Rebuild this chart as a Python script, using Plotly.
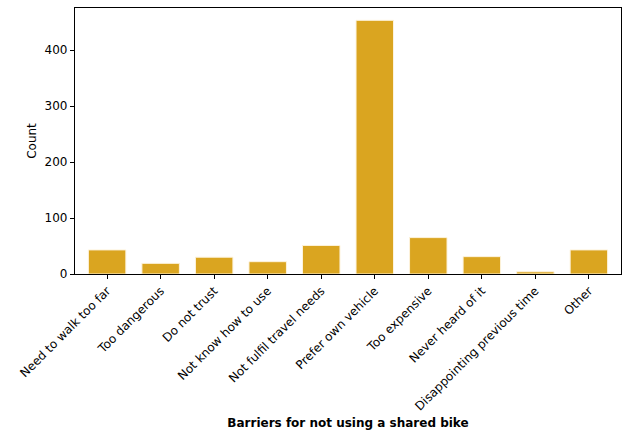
import plotly.graph_objects as go

categories = ["Need to walk too far", "Too dangerous", "Do not trust", "Not know how to use",
              "Not fulfil travel needs", "Prefer own vehicle", "Too expensive", "Never heard of it",
              "Disappointing previous time", "Other"]
counts = [43, 19, 30, 22, 51, 453, 65, 31, 4, 43]
y_ticks = [0, 100, 200, 300, 400]

fig = go.Figure(go.Bar(
    x=list(range(len(categories))), y=counts, width=0.7,
    marker=dict(color="#DAA520", line=dict(color="#fdf3dc", width=1)),
))

font = dict(family="DejaVu Sans", size=12, color="black")
fig.update_layout(
    width=622, height=432,
    margin=dict(l=75, r=1, t=8, b=158),
    plot_bgcolor="white", paper_bgcolor="white",
    font=font, showlegend=False,
    bargap=0.3,
)
fig.update_xaxes(
    range=[-0.6, 9.6], tickmode="array", tickvals=list(range(len(categories))),
    ticktext=categories, tickangle=-45,
    showline=True, linecolor="black", linewidth=1.2, mirror=True,
    ticks="outside", ticklen=4, tickcolor="black", showgrid=False, zeroline=False,
    title=dict(text="<b>Barriers for not using a shared bike</b>", font=dict(family="DejaVu Sans", size=12), standoff=6),
)
fig.update_yaxes(
    range=[0, 475], tickmode="array", tickvals=y_ticks,
    showline=True, linecolor="black", linewidth=1.2, mirror=True,
    ticks="outside", ticklen=4, tickcolor="black", showgrid=False, zeroline=False,
    title=dict(text="Count", font=dict(family="DejaVu Sans", size=12), standoff=5),
)
fig.write_html("out.html")
